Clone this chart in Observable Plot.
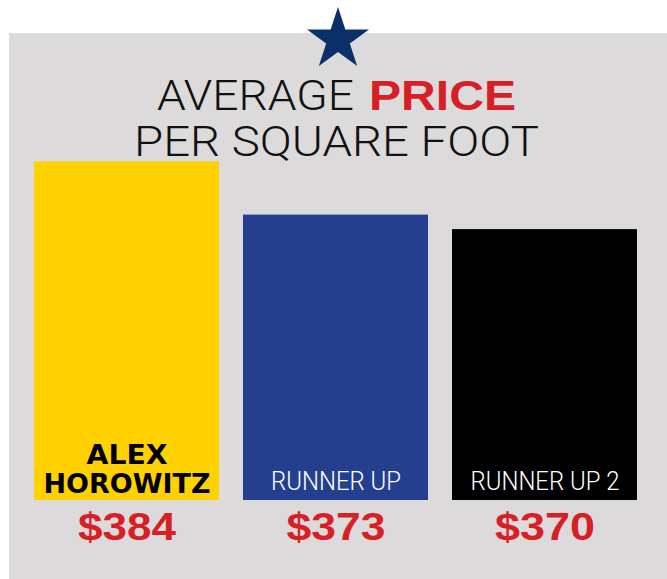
<!DOCTYPE html>
<html><head><meta charset="utf-8">
<script src="https://cdn.jsdelivr.net/npm/d3@7"></script>
<script src="https://cdn.jsdelivr.net/npm/@observablehq/plot@0.6"></script>
<style>
html,body{margin:0;padding:0;background:#fff;}
#wrap{position:relative;width:667px;height:579px;overflow:hidden;}
#chart{position:absolute;left:9px;top:33px;}
#overlay{position:absolute;left:0;top:0;pointer-events:none;}
</style></head>
<body>
<div id="wrap">
  <div id="chart"></div>
  <svg id="overlay" width="667" height="579"></svg>
</div>
<script>
// ---- data ----
const candidates = ["ALEX HOROWITZ", "RUNNER UP", "RUNNER UP 2"];
const barLabels = ["ALEX\nHOROWITZ", "RUNNER UP", "RUNNER UP 2"];
const prices = [384, 373, 370];
const priceLabels = ["$384", "$373", "$370"];
const axisBase = 314;
const axisTop = 400;
const titleLine1 = ["AVERAGE", "PRICE"];
const titleLine2 = "PER SQUARE FOOT";

const data = candidates.map((c, i) => ({
  candidate: c, label: barLabels[i], price: prices[i], priceLabel: priceLabels[i]
}));

const condensedBold = "'Liberation Sans Narrow', 'DejaVu Sans Condensed', Arial, sans-serif";
const light = "Roboto, 'Open Sans', sans-serif";
const boldSans = "'Liberation Sans', Arial, Helvetica, sans-serif";

const plot = Plot.plot({
  width: 658, height: 546,
  marginLeft: 24, marginRight: 29, marginTop: 51, marginBottom: 79,
  style: {background: "#dcdadb", overflow: "visible"},
  x: {domain: candidates, axis: null, paddingInner: 0.117, paddingOuter: 0},
  y: {domain: [axisBase, axisTop], axis: null},
  color: {domain: candidates, range: ["#ffd100", "#253f8f", "#000000"]},
  marks: [
    Plot.barY(data, {x: "candidate", y1: axisBase, y2: "price", fill: "candidate"}),
    Plot.text(data.slice(0, 1), {x: "candidate", y: axisBase, text: "label", lineAnchor: "bottom",
      dy: -8, fill: "#000", fontSize: 27, fontWeight: "bold", lineHeight: 1.04, fontFamily: condensedBold}),
    Plot.text(data.slice(1), {x: "candidate", y: axisBase, text: "label", lineAnchor: "bottom",
      dy: -11, fill: "#fff", fontSize: 26, fontWeight: 300, fontFamily: light}),
    Plot.text(data, {x: "candidate", y: axisBase, text: "priceLabel", dy: 27,
      fill: "#d71f26", fontSize: 39, fontWeight: "bold", fontFamily: boldSans})
  ]
});
document.getElementById("chart").appendChild(plot);

// fit label widths
const widths = {"ALEX": 81, "HOROWITZ": 167, "RUNNER UP": 130, "RUNNER UP 2": 149, "$384": 98, "$373": 99, "$370": 100};
d3.select(plot).selectAll("text, tspan").each(function() {
  const t = this.textContent;
  if (this.tagName === "text" && this.querySelector("tspan")) return;
  if (widths[t]) {
    this.setAttribute("textLength", widths[t]);
    this.setAttribute("lengthAdjust", "spacingAndGlyphs");
  }
});

// overlay: star + title
const ov = d3.select("#overlay");
const cx = 338, cy = 39.6, R = 32.6, r = R * 0.382;
const pts = d3.range(10).map(i => {
  const a = -Math.PI / 2 + i * Math.PI / 5;
  const rr = i % 2 ? r : R;
  return [cx + rr * Math.cos(a), cy + rr * Math.sin(a)];
});
ov.append("polygon").attr("points", pts.map(p => p.join(",")).join(" ")).attr("fill", "#0a2f69");

const t1 = ov.append("text").attr("font-size", 43).attr("fill", "#111");
t1.append("tspan").attr("x", 157).attr("y", 110).attr("font-family", light).attr("font-weight", 300)
  .attr("textLength", 197).attr("lengthAdjust", "spacingAndGlyphs").text(titleLine1[0]);
t1.append("tspan").attr("x", 369).attr("y", 110).attr("font-family", boldSans).attr("font-weight", 900)
  .attr("fill", "#d71f26").attr("textLength", 147).attr("lengthAdjust", "spacingAndGlyphs").text(titleLine1[1]);
ov.append("text").attr("x", 134).attr("y", 156).attr("font-size", 43).attr("fill", "#111")
  .attr("font-family", light).attr("font-weight", 300)
  .attr("textLength", 405).attr("lengthAdjust", "spacingAndGlyphs").text(titleLine2);
</script>
</body></html>
